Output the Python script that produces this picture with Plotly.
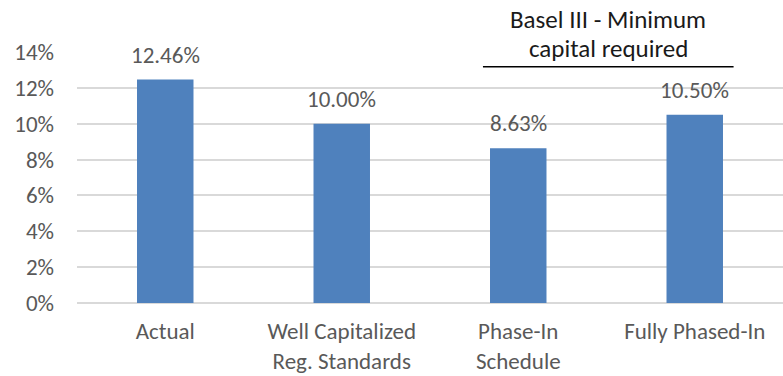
import plotly.graph_objects as go

# Capital ratio comparison
categories = ["Actual", "Well Capitalized<br>Reg. Standards", "Phase-In<br>Schedule", "Fully Phased-In"]
ratios = [0.1246, 0.1000, 0.0863, 0.1050]
y_ticks = [0, 0.02, 0.04, 0.06, 0.08, 0.10, 0.12, 0.14]
y_tick_labels = ["0%", "2%", "4%", "6%", "8%", "10%", "12%", "14%"]
bracket_lines = ["Basel III - Minimum", "capital required"]

FONT = "Calibri, Carlito, Lato, sans-serif"
BAR_COLOR = "#4F81BD"
TEXT_GREY = "#595959"
GRID = "#D9D9D9"

x_pos = list(range(len(categories)))

fig = go.Figure()
fig.add_trace(go.Bar(
    x=x_pos,
    y=ratios,
    marker=dict(color=BAR_COLOR, line=dict(width=0)),
    width=0.32,
    hoverinfo="skip",
))

# Value labels above each bar
for xi, v in zip(x_pos, ratios):
    fig.add_annotation(
        x=xi, y=v, xref="x", yref="y",
        text=f"{v * 100:.2f}%",
        showarrow=False,
        yanchor="middle",
        yshift=25,
        font=dict(family=FONT, size=23, color=TEXT_GREY),
    )

# Bracket over the Basel III bars
fig.add_shape(
    type="line", xref="x", yref="y",
    x0=1.80, x1=3.22, y0=0.1318, y1=0.1318,
    line=dict(color="#000000", width=1.5),
)
for line_text, y_paper in zip(bracket_lines, [1.1275, 1.0139]):
    fig.add_annotation(
        x=2.51, y=y_paper, xref="x", yref="paper",
        text=line_text,
        showarrow=False,
        yanchor="middle",
        font=dict(family=FONT, size=25, color="#1a1a1a"),
    )

fig.update_layout(
    width=783,
    height=376,
    margin=dict(l=77, r=0, t=52, b=73),
    paper_bgcolor="white",
    plot_bgcolor="white",
    showlegend=False,
    bargap=0.68,
    font=dict(family=FONT, size=23, color=TEXT_GREY),
)
fig.update_xaxes(
    tickmode="array",
    tickvals=x_pos,
    ticktext=categories,
    range=[-0.5, len(categories) - 0.5],
    showgrid=False,
    showline=False,
    zeroline=False,
    ticks="",
    ticklabelstandoff=12,
    tickfont=dict(family=FONT, size=23, color=TEXT_GREY),
)
fig.update_yaxes(
    range=[0, 0.14],
    tickmode="array",
    tickvals=y_ticks,
    ticktext=y_tick_labels,
    showgrid=True,
    gridcolor=GRID,
    gridwidth=1.5,
    zeroline=True,
    zerolinecolor=GRID,
    zerolinewidth=1.5,
    showline=False,
    ticks="",
    ticklabelstandoff=22,
    tickfont=dict(family=FONT, size=23, color=TEXT_GREY),
)

fig.write_html("out.html")
